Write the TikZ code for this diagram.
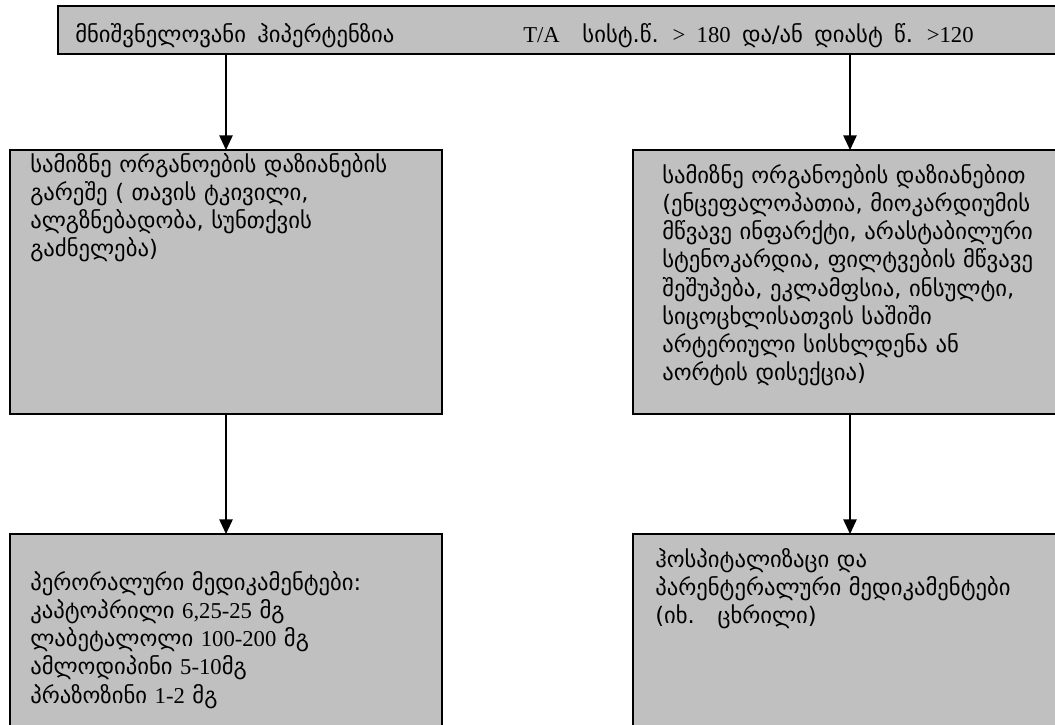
\documentclass[tikz,border=0pt]{standalone}
\usepackage{fontspec}
\setmainfont{DejaVu Sans}
\newfontfamily\latn{Liberation Serif}
\usetikzlibrary{arrows.meta,fit}
\definecolor{boxgray}{RGB}{192,192,192}
\newcommand\geofont{\fontsize{17}{21.2}\selectfont\spaceskip=0.5em plus 0.1em minus 0.1em\relax}
\begin{document}
\begin{tikzpicture}[x=0.75pt,y=-0.75pt,
  box/.style={draw=black,line width=1.3pt,fill=boxgray,inner sep=0pt,outer sep=0pt},
  txt/.style={anchor=base west,inner sep=0pt,text width=420pt,align=left,font=\geofont},
  toptxt/.style={anchor=base west,inner sep=0pt,font=\geofont},
  arr/.style={line width=1.2pt,-{Triangle[length=11pt,width=10pt]}}]
\useasboundingbox (0,0) rectangle (1055,724);
\clip (0,0) rectangle (1055,724);
\fill[white] (0,0) rectangle (1055,724);
% boxes
\node[box,fit={(58,6) (1075,54)}] (top) {};
\node[box,fit={(10,150) (442,414)}] (l1) {};
\node[box,fit={(633,150) (1067,414)}] (r1) {};
\node[box,fit={(10,534) (442,760)}] (l2) {};
\node[box,fit={(633,534) (1067,760)}] (r2) {};
% connectors
\draw[arr] (top.south -| l1.north) -- (l1.north);
\draw[arr] (top.south -| r1.north) -- (r1.north);
\draw[arr] (l1.south) -- (l2.north);
\draw[arr] (r1.south) -- (r2.north);
% texts
\node[toptxt] (ttop) at (75,43) {\makebox[336pt][l]{მნიშვნელოვანი ჰიპერტენზია}{\latn T/A}\quad სისტ.წ. {\latn >} {\latn 180} და/ან დიასტ წ. {\latn >120}};
\node[txt] (tl1) at (30,172) {სამიზნე ორგანოების დაზიანების\\
გარეშე ( თავის ტკივილი,\\
ალგზნებადობა, სუნთქვის\\
გაძნელება)};
\node[txt] (tr1) at (662,183) {სამიზნე ორგანოების დაზიანებით\\
(ენცეფალოპათია, მიოკარდიუმის\\
მწვავე ინფარქტი, არასტაბილური\\
სტენოკარდია, ფილტვების მწვავე\\
შეშუპება, ეკლამფსია, ინსულტი,\\
სიცოცხლისათვის საშიში\\
არტერიული სისხლდენა ან\\
აორტის დისექცია)};
\node[txt] (tl2) at (30,590) {პერორალური მედიკამენტები:\\
კაპტოპრილი {\latn 6,25-25} მგ\\
ლაბეტალოლი {\latn 100-200} მგ\\
ამლოდიპინი {\latn 5-10}მგ\\
პრაზოზინი {\latn 1-2} მგ};
\node[txt] (tr2) at (655,567) {ჰოსპიტალიზაცი და\\
პარენტერალური მედიკამენტები\\
(იხ.\quad ცხრილი)};
\end{tikzpicture}
\end{document}
